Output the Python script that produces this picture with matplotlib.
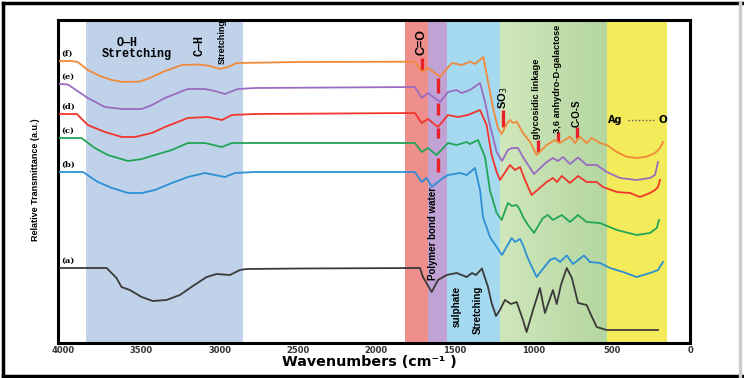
import numpy as np
import matplotlib.pyplot as plt
from matplotlib.colors import LinearSegmentedColormap
from matplotlib.lines import Line2D

# FTIR spectra, wavenumber (cm-1) vs relative transmittance (a.u., stacked)
wn_f = [4018, 3941, 3904, 3840, 3763, 3686, 3616, 3508, 3444, 3348, 3240, 3125, 3061, 2998, 2947,
        2889, 2487, 1754, 1711, 1671, 1594, 1518, 1456, 1403, 1371, 1318, 1288, 1256, 1225, 1201,
        1169, 1148, 1129, 1105, 1065, 1020, 978, 914, 861, 829, 765, 733, 702, 659, 627,
        574, 531, 467, 404, 340, 276, 223, 191, 172]
tr_f = [282, 282, 281, 273, 267, 263, 261, 261.5, 265, 272, 278, 278.5, 277, 274, 276,
        280, 281, 281.3, 271.3, 275, 266.3, 280, 278, 281.3, 279, 286, 261.3, 235, 215, 209,
        219, 223, 220, 221.3, 210, 201, 188, 198, 203, 200, 206.3, 200, 206.3, 200, 205,
        200, 198, 191, 186.3, 185, 186.3, 190, 195, 201]

wn_e = [4018, 3967, 3840, 3731, 3622, 3495, 3431, 3348, 3202, 3093, 3029, 2966, 2883, 2774, 1754,
        1711, 1671, 1594, 1543, 1488, 1456, 1403, 1339, 1307, 1276, 1233, 1199, 1161, 1135, 1097,
        1065, 995, 914, 874, 842, 810, 765, 714, 659, 595, 531, 446, 340, 255, 223, 204]
tr_e = [259, 258.5, 245, 236, 234, 234, 238, 245, 254, 254, 252, 249, 254, 255, 256,
        245, 250, 241, 251, 253, 250, 253, 260, 241, 218, 191, 182, 193, 195, 195,
        186, 169, 181, 185, 182, 186, 179, 185.5, 178, 178, 171, 165, 163, 165, 168, 181]

wn_d = [4018, 3910, 3840, 3731, 3622, 3540, 3431, 3348, 3202, 3074, 2985, 2921, 2774, 1754, 1711,
        1671, 1607, 1543, 1480, 1416, 1339, 1297, 1265, 1233, 1212, 1148, 1116, 1084, 1052, 1010,
        914, 874, 848, 818, 765, 714, 659, 595, 555, 467, 383, 319, 255, 223, 204, 191]
tr_d = [229, 229, 218, 211, 206, 206, 210, 216, 225, 226, 223, 228, 229, 230, 220,
        224, 216, 228, 226, 228, 233, 218, 188, 171, 163, 178, 173, 176, 163, 148,
        161, 165, 161, 167, 160, 167, 161, 161, 156, 151, 150, 146, 150, 153, 156, 163]

wn_c = [4018, 3881, 3795, 3712, 3584, 3495, 3412, 3304, 3202, 3093, 2985, 2921, 2774, 1754, 1711,
        1671, 1616, 1543, 1488, 1424, 1403, 1352, 1307, 1276, 1233, 1201, 1161, 1135, 1105, 1084,
        1065, 1033, 995, 938, 906, 874, 818, 765, 714, 659, 574, 467, 340, 255, 212, 198]
tr_c = [205, 205, 195, 188, 182, 184, 188, 193, 200, 200, 196, 200, 200, 200, 191,
        195, 188, 200, 198, 201, 199, 203, 186, 153, 130, 123, 140, 137, 138, 133,
        126, 118, 110, 125, 128, 123, 128, 121, 128, 121, 120, 113, 108, 110, 115, 123]

wn_b = [4018, 3871, 3776, 3686, 3584, 3495, 3412, 3304, 3202, 3093, 2966, 2902, 2774, 1754, 1711,
        1679, 1647, 1575, 1543, 1467, 1424, 1371, 1339, 1320, 1276, 1233, 1199, 1137, 1116, 1084,
        1065, 1042, 1020, 978, 893, 861, 829, 786, 746, 676, 638, 574, 510, 427, 340,
        255, 204, 172]
tr_b = [171, 171, 161, 155, 150, 150, 153, 160, 166, 170, 166, 170, 171, 171, 161,
        165, 156, 165, 168, 170, 168, 175, 153, 126, 106, 96, 88, 105, 101, 104,
        98, 88, 80, 66, 83, 85, 81, 87.5, 79, 87.5, 81, 80, 75, 71, 66,
        70, 73, 81]

wn_a = [4018, 3720, 3657, 3625, 3572, 3497, 3425, 3338, 3253, 3170, 3082, 3019, 2934, 2870, 2827,
        2487, 1722, 1703, 1647, 1607, 1552, 1488, 1424, 1390, 1365, 1327, 1288, 1265, 1237, 1212,
        1180, 1142, 1105, 1065, 1042, 1001, 957, 925, 874, 850, 823, 786, 753, 714, 659,
        631, 595, 531, 204]
tr_a = [75, 75, 65, 56, 53, 46, 42, 43, 48, 57, 66, 69, 68, 73, 74,
        74.5, 75, 66, 51, 63, 68, 70, 66, 70, 68, 74.5, 56, 40, 27, 33,
        43, 39, 41, 23, 11, 33, 55, 30, 53, 39, 58, 75, 65, 40, 38,
        28, 16, 13, 13]

spectra = [
    ('(f)', wn_f, tr_f, '#f08a3a'),
    ('(e)', wn_e, tr_e, '#9a6cc0'),
    ('(d)', wn_d, tr_d, '#f2352c'),
    ('(c)', wn_c, tr_c, '#22a557'),
    ('(b)', wn_b, tr_b, '#2c8fd4'),
    ('(a)', wn_a, tr_a, '#3a3a3a'),
]

xticks = [4000, 3500, 3000, 2500, 2000, 1500, 1000, 500, 0]

SANS = 'Liberation Sans'
RED = '#e8202a'

fig = plt.figure(figsize=(7.44, 3.78), dpi=100)
ax = fig.add_axes([58 / 744, 35 / 378, 632 / 744, 323 / 378])

# shaded regions
ax.axvspan(3852, 2850, color='#bfd2ea', lw=0, zorder=0)
ax.axvspan(1815, 1671, color='#ef8f8c', lw=0, zorder=0)
ax.axvspan(1671, 1550, color='#c1a2d5', lw=0, zorder=0)
ax.axvspan(1550, 1212, color='#a5d9f0', lw=0, zorder=0)
ax.axvspan(536, 147, color='#f3eb5a', lw=0, zorder=0)
green = LinearSegmentedColormap.from_list('green', ['#d0e7bc', '#b4d69f'])
ax.imshow(np.linspace(0, 1, 200).reshape(1, -1), extent=(1212, 536, 0, 323),
          aspect='auto', cmap=green, zorder=0)

for label, wn, tr, col in spectra:
    ax.plot(wn, tr, color=col, lw=1.3, solid_joinstyle='round', zorder=3)
    ax.text(4012, tr[0] + 7, label, family='DejaVu Serif', weight='bold',
            fontsize=6, ha='left', va='center', zorder=4)

# band labels
ax.text(3591, 300, 'O—H', family='Liberation Mono', weight='bold', fontsize=8.5,
        ha='center', va='center')
ax.text(3527, 289, 'Stretching', family='Liberation Mono', weight='bold', fontsize=8.5,
        ha='center', va='center')
ax.text(3125, 298, 'C—H', family='Liberation Mono', weight='bold', fontsize=8.5,
        rotation=90, ha='center', va='center')
ax.text(2985, 301, 'Stretching', family=SANS, weight='bold', fontsize=6.5,
        rotation=90, ha='center', va='center')

ax.text(1711, 301, 'C=O', family=SANS, weight='bold', fontsize=9,
        rotation=90, ha='center', va='center')
ax.vlines(1711, 273, 285, color=RED, lw=2.4)
for top, bottom in [(265, 250), (240, 228), (215, 205), (185, 171)]:
    ax.vlines(1608, bottom, top, color=RED, lw=2.4)
ax.text(1639, 110, 'Polymer bond water', family=SANS, weight='bold', fontsize=7,
        rotation=90, ha='center', va='center', zorder=4)
ax.text(1486, 57, 'sulphate', family=SANS, weight='bold', fontsize=7.2,
        rotation=90, ha='center', va='top', zorder=4)
ax.text(1352, 57, 'Stretching', family=SANS, weight='bold', fontsize=7,
        rotation=90, ha='center', va='top', zorder=4)

ax.text(1193, 245, 'SO$_3$', family=SANS, weight='bold', fontsize=8,
        rotation=90, ha='center', va='center')
ax.vlines(1193, 216, 233, color=RED, lw=2.4)
ax.text(976, 244, 'glycosidic linkage', family=SANS, weight='bold', fontsize=6.7,
        rotation=90, ha='center', va='center')
ax.vlines(969, 191, 203, color=RED, lw=2.4)
ax.text(848, 264, '3,6 anhydro-D-galactose', family=SANS, weight='bold', fontsize=6.7,
        rotation=90, ha='center', va='center')
ax.vlines(842, 201, 211, color=RED, lw=2.4)
ax.text(721, 230, 'C-O-S', family=SANS, weight='bold', fontsize=7,
        rotation=90, ha='center', va='center')
ax.vlines(721, 205, 216, color=RED, lw=2.4)

ax.text(478, 223, 'Ag', weight='bold', fontsize=7, ha='center', va='center')
ax.plot([395, 220], [223, 223], color='#555555', lw=1, ls=(0, (1, 1.5)))
ax.text(172, 223, 'O', weight='bold', fontsize=7.5, ha='center', va='center')

ax.set_xlim(4030, 0)
ax.set_ylim(0, 323)
ax.set_yticks([])
ax.set_xticks(xticks)
ax.set_xticklabels([str(t) for t in xticks], fontsize=6, weight='bold', color='#333333')
ax.tick_params(axis='x', length=0, pad=2)
for sp in ax.spines.values():
    sp.set_linewidth(2.2)

fig.text(369 / 744, (378 - 362) / 378, 'Wavenumbers (cm⁻¹ )', weight='bold', fontsize=10.3,
         ha='center', va='center')
fig.text(36 / 744, (378 - 180) / 378, 'Relative Transmittance (a.u.)', family=SANS,
         weight='bold', fontsize=6.5, rotation=90, ha='center', va='center')

# outer frame
for xs, ys, c in [([0.004, 0.004], [0.005, 0.993], 'black'),
                  ([0.004, 1.0], [0.993, 0.993], 'black'),
                  ([0.004, 1.0], [0.005, 0.005], 'black'),
                  ([0.995, 0.995], [0.005, 0.993], '#cccccc')]:
    fig.add_artist(Line2D(xs, ys, transform=fig.transFigure, color=c, lw=2.5))

fig.savefig('out.png', dpi=100)
